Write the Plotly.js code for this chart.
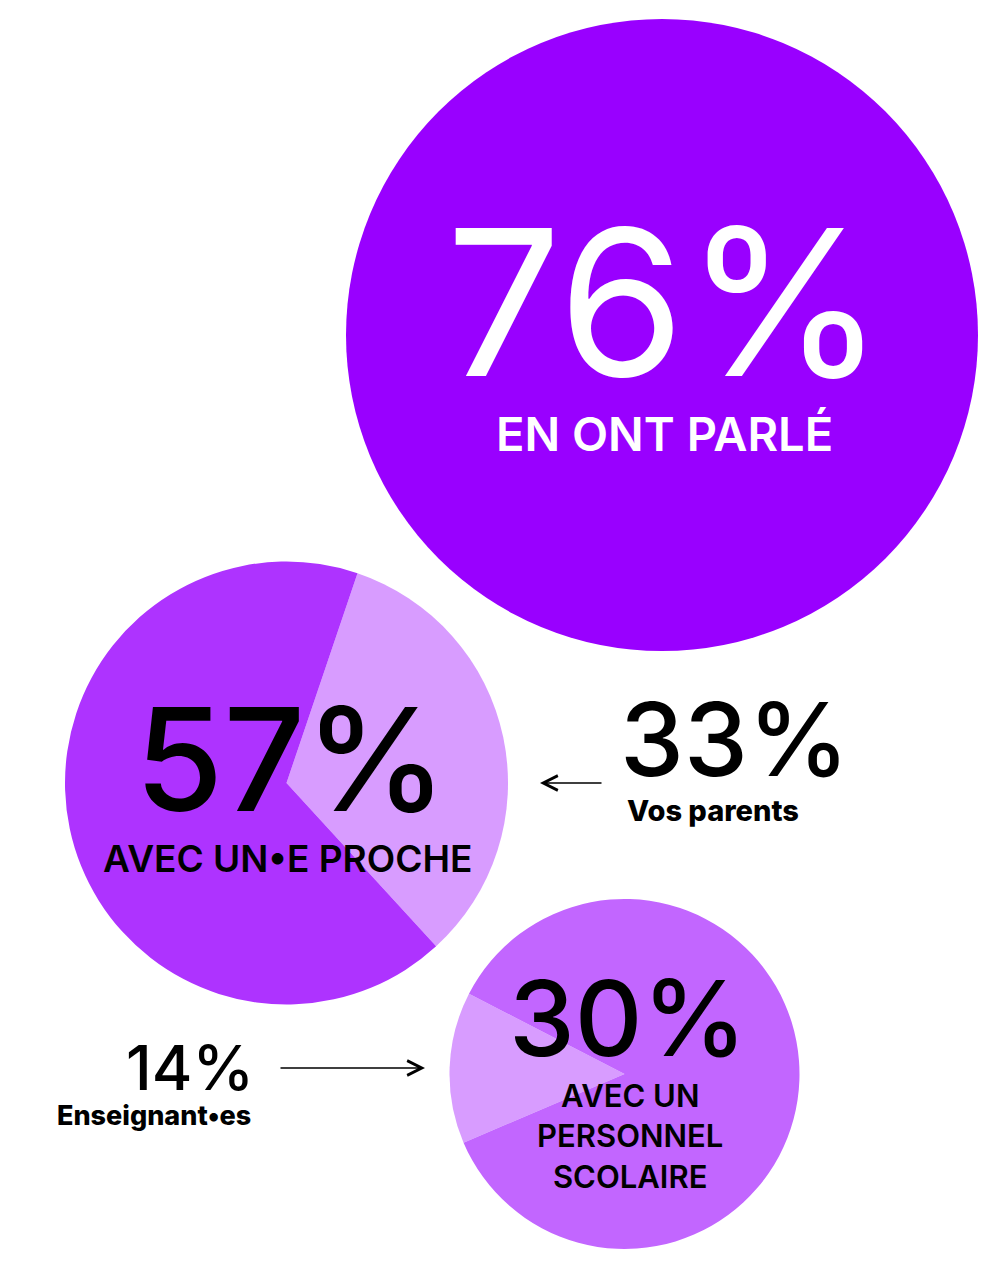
<!DOCTYPE html>
<html>
<head>
<meta charset="utf-8">
<script src="https://cdn.plot.ly/plotly-3.0.1.min.js"></script>
<style>html,body{margin:0;padding:0;background:#fff;}#chart{width:993px;height:1266px;}</style>
</head>
<body>
<div id="chart"></div>
<script>
// ---- data ----
const mainLabel = "EN ONT PARLÉ";
const mainValue = 76;
const procheLabel = "AVEC UN•E PROCHE";
const procheValue = 57;
const procheSliceLabels = ["Vos parents", "Autres"];
const procheSliceValues = [33, 67];
const scolaireLabel = "AVEC UN<br>PERSONNEL<br>SCOLAIRE";
const scolaireValue = 30;
const scolaireSliceLabels = ["Enseignant•es", "Autres"];
const scolaireSliceValues = [14, 86];

// ---- layout helpers (pixel geometry) ----
const W = 993, H = 1266;
function dom(cx, cy, r) {
  return { x: [(cx - r) / W, (cx + r) / W], y: [1 - (cy + r) / H, 1 - (cy - r) / H] };
}
const FONT = "Inter, 'Open Sans', sans-serif";

const traces = [
  {
    type: 'pie', values: [mainValue], labels: [mainLabel], sort: false,
    marker: { colors: ['#9900FF'], line: { width: 0 } },
    textinfo: 'none', hoverinfo: 'none', domain: dom(662, 335, 316), showlegend: false
  },
  {
    type: 'pie', values: procheSliceValues, labels: procheSliceLabels, sort: false,
    direction: 'clockwise', rotation: 18.7,
    marker: { colors: ['#D89CFF', '#AE33FF'], line: { width: 0 } },
    textinfo: 'none', hoverinfo: 'none', domain: dom(286.5, 783, 221.5), showlegend: false
  },
  {
    type: 'pie', values: scolaireSliceValues, labels: scolaireSliceLabels, sort: false,
    direction: 'clockwise', rotation: 246.9,
    marker: { colors: ['#D89CFF', '#C266FF'], line: { width: 0 } },
    textinfo: 'none', hoverinfo: 'none', domain: dom(624.5, 1074, 175), showlegend: false
  }
];

function ann(text, x, y, size, weight, color, extra) {
  return Object.assign({
    text: text, x: x, y: y, xref: 'x', yref: 'y', showarrow: false,
    xanchor: 'center', yanchor: 'middle',
    font: { family: FONT, size: size, weight: weight, color: color }
  }, extra || {});
}

const annotations = [
  ann(mainValue + '%', 665, 301, 204, 400, '#FFFFFF'),
  ann(mainLabel, 664, 433, 47, 600, '#FFFFFF'),
  ann(procheValue + '%', 291, 758, 143, 500, '#000000'),
  ann(procheLabel, 287, 858, 37, 600, '#000000'),
  ann(procheSliceValues[0] + '%', 734, 739, 102, 500, '#000000'),
  ann(procheSliceLabels[0], 713, 810, 29, 800, '#000000'),
  ann(scolaireSliceValues[0] + '%', 190, 1067, 62, 500, '#000000'),
  ann(scolaireSliceLabels[0], 154, 1115, 27, 800, '#000000'),
  ann(scolaireValue + '%', 628, 1017, 105, 500, '#000000'),
  ann(scolaireLabel, 630, 1136, 31, 600, '#000000', { align: 'center' }),
  // arrows
  { text: '', x: 540, y: 783, ax: 603, ay: 783, xref: 'x', yref: 'y', axref: 'x', ayref: 'y',
    showarrow: true, arrowhead: 5, arrowsize: 1.8, arrowwidth: 1.6, arrowcolor: '#000' },
  { text: '', x: 425, y: 1068, ax: 279, ay: 1068, xref: 'x', yref: 'y', axref: 'x', ayref: 'y',
    showarrow: true, arrowhead: 5, arrowsize: 1.8, arrowwidth: 1.6, arrowcolor: '#000' }
];

const layout = {
  width: W, height: H,
  margin: { l: 0, r: 0, t: 0, b: 0 },
  paper_bgcolor: '#FFFFFF', plot_bgcolor: 'rgba(0,0,0,0)',
  showlegend: false,
  xaxis: { range: [0, W], visible: false, fixedrange: true },
  yaxis: { range: [H, 0], visible: false, fixedrange: true },
  annotations: annotations
};

Plotly.newPlot('chart', traces, layout, { staticPlot: true, displayModeBar: false });
</script>
</body>
</html>
